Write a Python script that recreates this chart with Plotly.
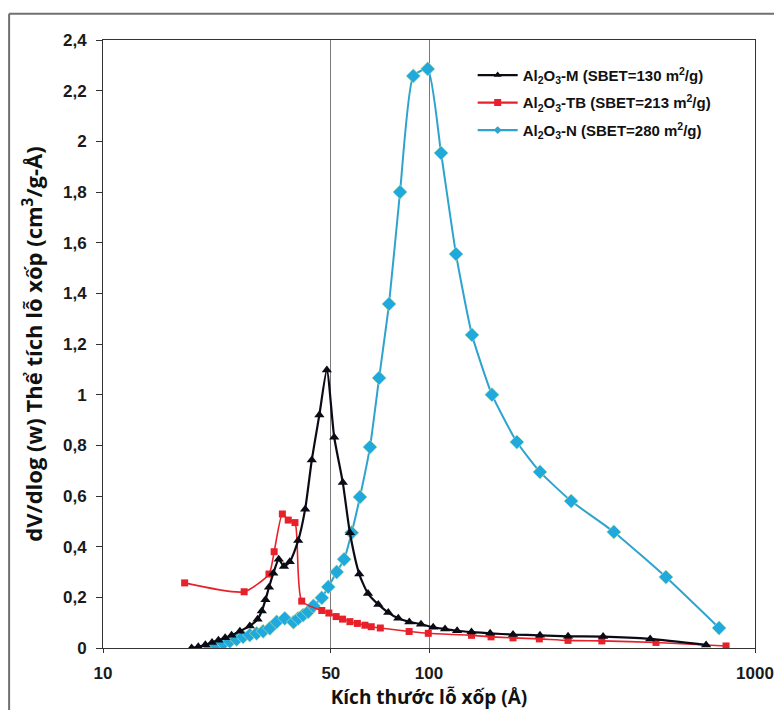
import plotly.graph_objects as go

# Pore size distribution (BJH) for three alumina samples
# pore width in Å, dV/dlog(w) in cm3/g-Å

m_size = [18.7, 19.6, 20.6, 21.6, 22.6, 23.7, 24.8, 26.3, 28.2, 29.8, 30.7, 31.5,
          32.3, 33.3, 34.6, 35.9, 37.4, 39.7, 41.7, 43.7, 46.1, 48.6, 51.2, 54.4,
          57.2, 61.1, 65.0, 69.9, 75.0, 80.5, 87.0, 94.5, 103, 112, 122, 135, 154,
          181, 219, 267, 342, 477, 708]
m_dv = [0.0, 0.005, 0.013, 0.022, 0.031, 0.040, 0.050, 0.066, 0.087, 0.113, 0.146, 0.19,
        0.24, 0.295, 0.35, 0.322, 0.34, 0.424, 0.548, 0.742, 0.92, 1.097, 0.832, 0.653,
        0.455, 0.292, 0.215, 0.172, 0.140, 0.117, 0.103, 0.094, 0.082, 0.075, 0.068,
        0.063, 0.058, 0.053, 0.050, 0.046, 0.045, 0.036, 0.012]

tb_size = [17.8, 27.1, 32.3, 33.5, 35.5, 37.0, 38.8, 40.7, 46.9, 49.3, 51.9, 54.3,
           57.2, 60.3, 63.6, 66.5, 70.9, 86.9, 99.5, 135, 155, 181, 218, 267, 339,
           497, 815]
tb_dv = [0.257, 0.222, 0.292, 0.380, 0.529, 0.505, 0.495, 0.185, 0.148, 0.138, 0.124,
         0.114, 0.104, 0.097, 0.090, 0.084, 0.079, 0.065, 0.058, 0.050, 0.044, 0.040,
         0.036, 0.030, 0.028, 0.022, 0.008]

n_size = [21.3, 22.3, 23.4, 24.5, 25.7, 26.9, 28.2, 29.6, 31.0, 32.5, 34.1, 36.1,
          38.4, 39.7, 41.1, 42.6, 44.2, 46.9, 49.1, 52.1, 54.9, 57.9, 61.4, 65.9,
          70.3, 75.4, 81.5, 89.5, 99.1, 108.9, 121, 135.5, 156, 186, 219, 273, 369,
          533, 776]
n_dv = [0.0, 0.008, 0.018, 0.026, 0.034, 0.044, 0.051, 0.058, 0.066, 0.078, 0.103,
        0.117, 0.102, 0.117, 0.130, 0.143, 0.166, 0.198, 0.241, 0.300, 0.350, 0.455,
        0.596, 0.793, 1.066, 1.358, 1.800, 2.258, 2.286, 1.954, 1.555, 1.236, 1.000,
        0.813, 0.695, 0.580, 0.458, 0.280, 0.079]

names = ["Al<sub>2</sub>O<sub>3</sub>-M (SBET=130 m<sup>2</sup>/g)",
         "Al<sub>2</sub>O<sub>3</sub>-TB (SBET=213 m<sup>2</sup>/g)",
         "Al<sub>2</sub>O<sub>3</sub>-N (SBET=280 m<sup>2</sup>/g)"]

x_ticks = [10, 50, 100, 1000]
x_labels = ["10", "50", "100", "1000"]

BLACK = "#0b0b16"
RED = "#e8202a"
CYAN = "#2ea3cf"
CYAN_FILL = "#20a9dc"

fig = go.Figure()

# data curves (legend shown by the small-marker entries below)
fig.add_trace(go.Scatter(
    x=n_size, y=n_dv, mode="lines+markers", showlegend=False,
    line=dict(color=CYAN, width=2, shape="spline", smoothing=0.5),
    marker=dict(symbol="diamond", size=11, color=CYAN_FILL,
                line=dict(color="#c9e6a0", width=0.6))))
fig.add_trace(go.Scatter(
    x=tb_size, y=tb_dv, mode="lines+markers", showlegend=False,
    line=dict(color=RED, width=1.6, shape="spline", smoothing=0.6),
    marker=dict(symbol="square", size=7, color=RED)))
fig.add_trace(go.Scatter(
    x=m_size, y=m_dv, mode="lines+markers", showlegend=False,
    line=dict(color=BLACK, width=2.2, shape="spline", smoothing=0.6),
    marker=dict(symbol="triangle-up", size=9, color=BLACK)))

# legend entries, one group each so the rows get extra spacing
for i, (nm, col, sym) in enumerate(zip(names, [BLACK, RED, CYAN],
                                       ["triangle-up", "square", "diamond"])):
    fig.add_trace(go.Scatter(
        x=[None], y=[None], mode="lines+markers", name=nm,
        legendgroup=f"g{i}",
        line=dict(color=col, width=2.2),
        marker=dict(symbol=sym, size=7 if sym != "diamond" else 6, color=col)))

# outer frame (top and left edges)
fig.add_shape(type="line", xref="paper", yref="paper",
              x0=-0.144, x1=1.05, y0=1.043, y1=1.043,
              line=dict(color="#707070", width=2))
fig.add_shape(type="line", xref="paper", yref="paper",
              x0=-0.144, x1=-0.144, y0=1.043, y1=-0.12,
              line=dict(color="#707070", width=2))

tick_font = dict(family="Liberation Sans, Arial, sans-serif", size=17,
                 color="#1a1a1a", weight="bold")

fig.update_layout(
    width=774, height=710,
    margin=dict(l=103, r=19, t=40, b=62),
    paper_bgcolor="white", plot_bgcolor="white",
    separators=", ",
    showlegend=True,
    legend=dict(x=0.567, y=0.969, xanchor="left", yanchor="top",
                bgcolor="rgba(0,0,0,0)", itemwidth=40,
                font=dict(family="Liberation Sans, Arial, sans-serif",
                          size=15, color="#111111", weight="bold"),
                tracegroupgap=5),
    xaxis=dict(type="log", range=[1, 3], tickvals=x_ticks, ticktext=x_labels,
               automargin=False,
               showgrid=True, gridcolor="#7a7a7a", gridwidth=1,
               showline=True, linecolor="#333333", linewidth=1, mirror=True,
               ticks="outside", ticklen=4, tickcolor="#333333",
               ticklabelstandoff=6,
               tickfont=tick_font, zeroline=False,
               title=dict(text="Kích thước lỗ xốp (Å)",
                          font=dict(family="Open Sans, sans-serif", size=19,
                                    color="#111111", weight="bold"),
                          standoff=8)),
    yaxis=dict(range=[0, 2.4], dtick=0.2, showgrid=False, automargin=False,
               showline=True, linecolor="#333333", linewidth=1, mirror=True,
               ticks="outside", ticklen=6, tickcolor="#333333",
               ticklabelstandoff=6,
               tickfont=tick_font, zeroline=False,
               title=dict(text="dV/dlog (w) Thể tích lỗ xốp (cm<sup>3</sup>/g-Å)",
                          font=dict(family="Open Sans, sans-serif", size=22,
                                    color="#111111", weight="bold"),
                          standoff=14)),
)

fig.write_html("out.html")
